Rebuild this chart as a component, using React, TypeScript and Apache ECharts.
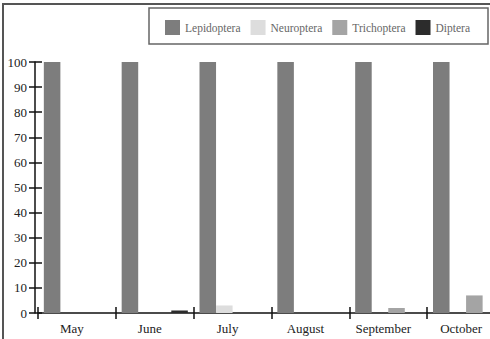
import React, { useEffect, useRef } from "react";
import * as echarts from "echarts";

const months = ["May", "June", "July", "August", "September", "October"];
const seriesNames = ["Lepidoptera", "Neuroptera", "Trichoptera", "Diptera"];
const lepidoptera = [100, 100, 100, 100, 100, 100];
const neuroptera = [0, 0, 3, 0, 0, 0];
const trichoptera = [0, 0, 0, 0, 2, 7];
const diptera = [0, 1, 0, 0, 0, 0];
const yTicks = [0, 10, 20, 30, 40, 50, 60, 70, 80, 90, 100];

const colors = ["#7d7d7d", "#dddddd", "#a4a4a4", "#2c2c2c"];
const FONT = "'Liberation Serif', 'Times New Roman', serif";

export default function App() {
  const ref = useRef<HTMLDivElement>(null);
  useEffect(() => {
    document.body.style.margin = "0";
    const chart = echarts.init(ref.current!, undefined, { renderer: "svg" });
    const values = [lepidoptera, neuroptera, trichoptera, diptera];
    const yMin = yTicks[0];
    const yMax = yTicks[yTicks.length - 1];
    const yInterval = yTicks[1] - yTicks[0];
    chart.setOption({
      animation: false,
      backgroundColor: "#ffffff",
      color: colors,
      legend: {
        data: seriesNames,
        left: 165,
        top: 20,
        icon: "rect",
        itemWidth: 15,
        itemHeight: 15,
        itemGap: 10,
        padding: 0,
        textStyle: { fontFamily: FONT, fontSize: 11.5, color: "#666" },
      },
      graphic: [
        {
          type: "polyline",
          shape: { points: [[3, 339], [3, 4], [490, 4]] },
          style: { stroke: "#555", lineWidth: 2, fill: "none" },
        },
        {
          type: "rect",
          shape: { x: 149, y: 8, width: 339, height: 36 },
          style: { stroke: "#666", lineWidth: 1.5, fill: "none" },
        },
      ],
      grid: { left: 38, top: 62, width: 467, height: 251, outerBoundsMode: "none", containLabel: false },
      xAxis: [
        {
          type: "category",
          data: months,
          axisLine: { lineStyle: { color: "#111", width: 1.5 } },
          axisTick: { show: true, length: 6, lineStyle: { color: "#111", width: 1.5 } },
          axisLabel: {
            fontFamily: FONT,
            fontSize: 13,
            color: "#222",
            margin: 9,
            padding: [0, 10, 0, 0],
          },
          splitLine: { show: false },
        },
        {
          type: "category",
          data: months,
          position: "bottom",
          axisLine: { show: false },
          axisTick: { show: true, inside: true, length: 6, lineStyle: { color: "#111", width: 1.5 } },
          axisLabel: { show: false },
          splitLine: { show: false },
        },
      ],
      yAxis: [
        {
          type: "value",
          min: yMin,
          max: yMax,
          interval: yInterval,
          offset: 3,
          axisLine: { show: true, lineStyle: { color: "#111", width: 1.5 } },
          axisTick: { show: true, length: 6, lineStyle: { color: "#111", width: 1.5 } },
          axisLabel: { fontFamily: FONT, fontSize: 13, color: "#222", margin: 8 },
          splitLine: { show: false },
        },
        {
          type: "value",
          min: yMin,
          max: yMax,
          interval: yInterval,
          offset: 3,
          position: "left",
          axisLine: { show: false },
          axisTick: { show: true, inside: true, length: 7, lineStyle: { color: "#111", width: 1.5 } },
          axisLabel: { show: false },
          splitLine: { show: false },
        },
      ],
      series: seriesNames.map((name, i) => ({
        name,
        type: "bar",
        data: values[i],
        xAxisIndex: 0,
        yAxisIndex: 0,
        barGap: "0%",
        barCategoryGap: "15%",
        itemStyle: { color: colors[i] },
      })),
    });
    return () => chart.dispose();
  }, []);
  return <div ref={ref} style={{ width: 490, height: 339 }} />;
}
